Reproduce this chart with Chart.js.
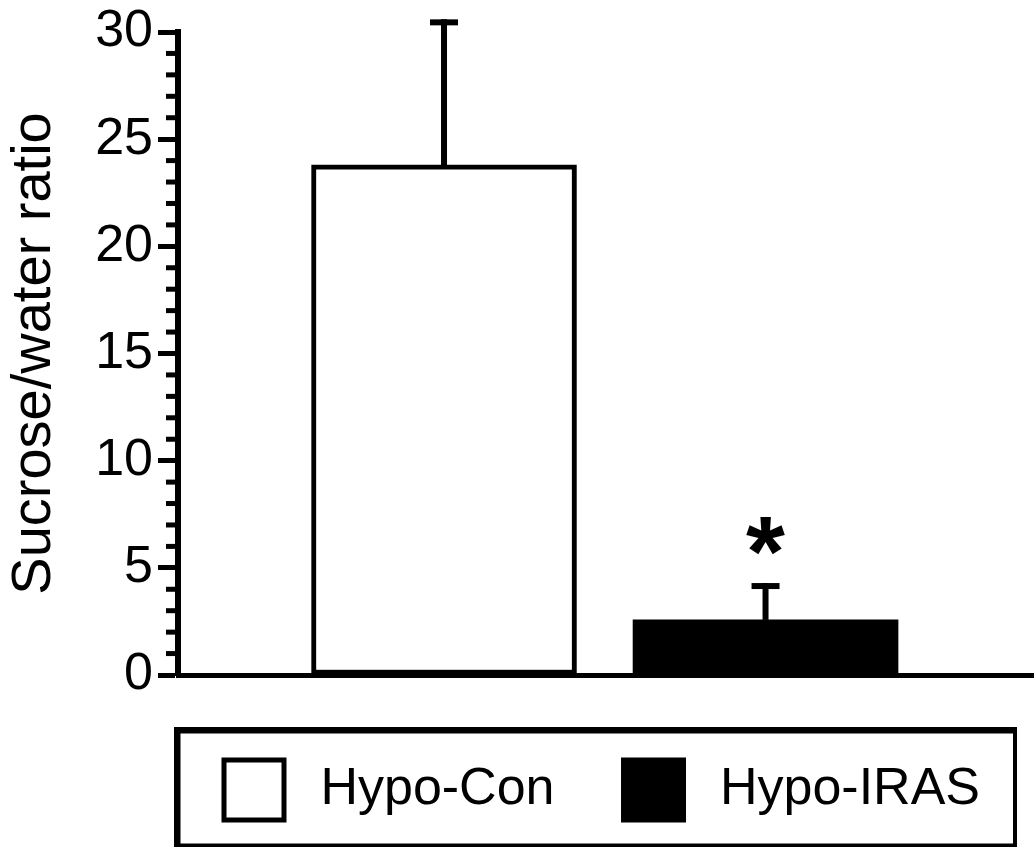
<!DOCTYPE html>
<html>
<head>
<meta charset="utf-8">
<script src="https://cdn.jsdelivr.net/npm/chart.js@4/dist/chart.umd.min.js"></script>
<style>
  html, body { margin: 0; padding: 0; background: #ffffff; }
  #wrap { width: 1034px; height: 850px; }
</style>
</head>
<body>
<div id="wrap"><canvas id="c" width="1034" height="850"></canvas></div>
<script>
// ---- data ----
const categories = ['Hypo-Con', 'Hypo-IRAS'];
const means = [23.8, 2.57];
const errors = [6.65, 1.58];
const marks = ['', '*'];
const yTicks = [0, 5, 10, 15, 20, 25, 30];
const fills = ['#ffffff', '#000000'];

const FONT = "'Liberation Sans', Arial, Helvetica, sans-serif";
Chart.defaults.font.family = FONT;
Chart.defaults.color = '#000000';

const minorTicks = [];
for (let v = yTicks[0]; v <= yTicks[yTicks.length - 1]; v++) {
  if (!yTicks.includes(v)) minorTicks.push(v);
}

const decor = {
  id: 'decor',
  afterLayout(chart) {
    const lg = chart.legend;
    if (lg) { lg.left += 85; lg.right += 85; }
  },
  afterDatasetsDraw(chart) {
    const { ctx, scales: { x, y } } = chart;
    ctx.save();
    ctx.strokeStyle = '#000';
    ctx.lineCap = 'butt';
    means.forEach((m, i) => {
      const px = x.getPixelForValue(i + 1);
      const pb = y.getPixelForValue(m);
      const pt = y.getPixelForValue(m + errors[i]);
      ctx.lineWidth = 6;
      ctx.beginPath(); ctx.moveTo(px, pb); ctx.lineTo(px, pt - 3); ctx.stroke();
      ctx.beginPath(); ctx.moveTo(px - 14, pt); ctx.lineTo(px + 14, pt); ctx.stroke();
      if (marks[i]) {
        ctx.font = 'bold 100px ' + FONT;
        ctx.fillStyle = '#000';
        ctx.textAlign = 'center';
        ctx.textBaseline = 'alphabetic';
        const mt = ctx.measureText(marks[i]);
        const cy = pt - 50;
        ctx.fillText(marks[i], px, cy + (mt.actualBoundingBoxAscent - mt.actualBoundingBoxDescent) / 2);
      }
    });
    ctx.restore();
  },
  afterDraw(chart) {
    const { ctx, scales: { y } } = chart;
    ctx.save();
    ctx.strokeStyle = '#000';
    ctx.lineWidth = 5;
    minorTicks.forEach(v => {
      const py = y.getPixelForValue(v);
      ctx.beginPath(); ctx.moveTo(y.right - 12, py); ctx.lineTo(y.right, py); ctx.stroke();
    });
    const lg = chart.legend;
    const hb = lg.legendHitBoxes;
    if (hb && hb.length) {
      const boxTop = hb[0].top + (hb[0].height - 60) / 2;
      const last = hb[hb.length - 1];
      const left = hb[0].left - 50;
      const right = last.left + last.width + 37;
      const top = boxTop - 33;
      const bottom = boxTop + 60 + 27;
      ctx.fillStyle = '#000';
      ctx.fillRect(left, top, right - left, 6.5);          // top
      ctx.fillRect(left, top, 6.5, bottom - top);          // left
      ctx.fillRect(left, bottom - 3.5, right - left, 3.5); // bottom
      ctx.fillRect(right - 4, top, 4, bottom - top);       // right
    }
    ctx.restore();
  }
};

new Chart(document.getElementById('c'), {
  type: 'bar',
  data: {
    datasets: categories.map((name, i) => ({
      label: name,
      data: [{ x: i + 1, y: means[i] }],
      backgroundColor: fills[i],
      borderColor: '#000000',
      borderWidth: i === 0 ? 5 : 0,
      borderSkipped: false
    }))
  },
  options: {
    responsive: false,
    animation: false,
    devicePixelRatio: 1,
    layout: { padding: { top: 32, left: 0, right: 0, bottom: 20 } },
    datasets: { bar: { grouped: false, barThickness: 265 } },
    plugins: {
      tooltip: { enabled: false },
      legend: {
        position: 'bottom',
        fullSize: true,
        labels: {
          boxWidth: 60,
          boxHeight: 60,
          padding: 69,
          color: '#000',
          font: { size: 52, family: FONT },
          generateLabels(chart) {
            return chart.data.datasets.map((ds, i) => ({
              text: '\u2009' + ds.label,
              fillStyle: fills[i],
              strokeStyle: '#000',
              lineWidth: 5,
              hidden: false,
              datasetIndex: i
            }));
          }
        }
      }
    },
    scales: {
      x: {
        type: 'linear',
        offset: false,
        bounds: 'data',
        min: 0.1726,
        max: 2.835,
        grid: { display: false, offset: false },
        ticks: { display: false },
        border: { display: true, color: '#000', width: 5 },
        afterFit(s) { s.height = 16; }
      },
      y: {
        min: 0,
        max: 30,
        afterBuildTicks(s) { s.ticks = yTicks.map(v => ({ value: v })); },
        afterFit(s) { s.width = 178; },
        grid: { display: true, drawOnChartArea: false, drawTicks: true, tickLength: 20, tickWidth: 5, tickColor: '#000', color: '#000' },
        border: { display: true, color: '#000', width: 6 },
        ticks: { padding: 5, color: '#000', font: { size: 52, family: FONT, lineHeight: 1 } },
        title: { display: true, text: 'Sucrose/water ratio', color: '#000', font: { size: 56, family: FONT }, padding: { top: 1, bottom: 0 } }
      }
    }
  },
  plugins: [decor]
});
</script>
</body>
</html>
